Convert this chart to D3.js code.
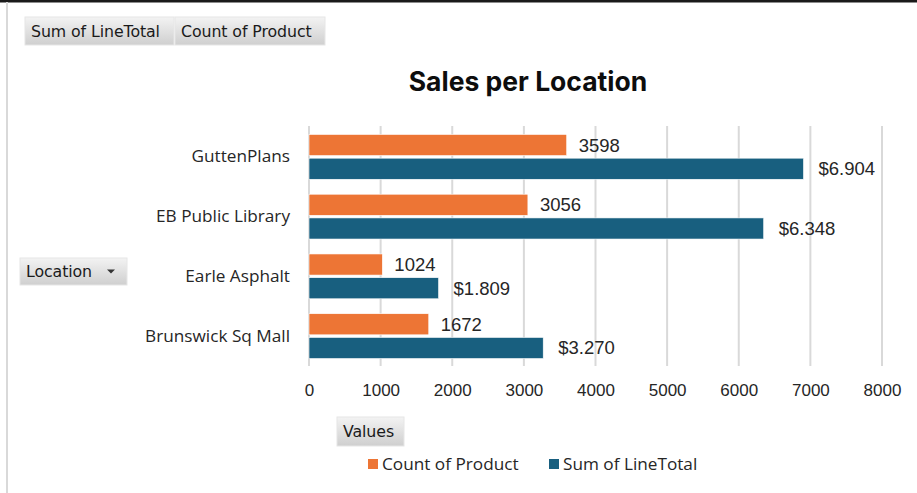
<!DOCTYPE html>
<html>
<head>
<meta charset="utf-8">
<script src="https://cdn.jsdelivr.net/npm/d3@7"></script>
<style>
  body { margin: 0; background: #fff; }
  svg { display: block; }
</style>
</head>
<body>
<svg id="chart" width="917" height="493"></svg>
<script>
// data
var locations = ["GuttenPlans", "EB Public Library", "Earle Asphalt", "Brunswick Sq Mall"];
var countOfProduct = [3598, 3056, 1024, 1672];
var sumOfLineTotal = [6904, 6348, 1809, 3270];
var xTicks = [0, 1000, 2000, 3000, 4000, 5000, 6000, 7000, 8000];
var seriesNames = ["Count of Product", "Sum of LineTotal"];
var seriesColors = ["#ED7535", "#185F7F"];

var svg = d3.select("#chart");
var W = 917, H = 493;

var defs = svg.append("defs");
var grad = defs.append("linearGradient").attr("id", "btn").attr("x1", 0).attr("y1", 0).attr("x2", 0).attr("y2", 1);
grad.append("stop").attr("offset", "0%").attr("stop-color", "#f3f3f3");
grad.append("stop").attr("offset", "100%").attr("stop-color", "#cfcfcf");

// frame lines
svg.append("rect").attr("x", 0).attr("y", 0).attr("width", W).attr("height", 2.5).attr("fill", "#1a1a1a");
svg.append("rect").attr("x", 6).attr("y", 2).attr("width", 2).attr("height", H).attr("fill", "#d9d9d9");

// pivot field buttons
function button(x, y, w, h, label, arrow) {
    var g = svg.append("g").attr("transform", "translate(" + x + "," + y + ")");
    g.append("rect").attr("width", w).attr("height", h)
        .attr("fill", "url(#btn)").attr("stroke", "#e6e6e6").attr("stroke-width", 1);
    g.append("text").attr("x", 6).attr("y", h / 2 + 5.5)
        .attr("font-family", "'DejaVu Sans', 'Liberation Sans', sans-serif")
        .attr("font-size", 15.8).attr("letter-spacing", -0.1).attr("fill", "#1a1a1a").text(label);
    if (arrow) {
        g.append("path").attr("d", "M" + (w - 20) + "," + (h / 2 - 2) + "l8,0l-4,4z").attr("fill", "#333");
    }
}
button(25, 17, 149, 28, "Sum of LineTotal");
button(175, 17, 150, 28, "Count of Product");
button(20, 258, 107, 27, "Location", true);
button(337, 417, 67, 29, "Values");

// title
svg.append("text").attr("x", 528).attr("y", 91).attr("text-anchor", "middle")
    .attr("font-family", "Inter, 'Open Sans', sans-serif").attr("font-weight", "bold")
    .attr("font-size", 26.5).attr("fill", "#0d0d0d").text("Sales per Location");

// scales
var x = d3.scaleLinear().domain([0, 8000]).range([309, 882]);
var y = d3.scaleBand().domain(locations).range([127, 366]).paddingInner(0.25).paddingOuter(0.125);
var sub = d3.scaleBand().domain(seriesNames).range([0, y.bandwidth()]).paddingInner(0.11);

// gridlines
svg.append("g").selectAll("line").data(xTicks).join("line")
    .attr("x1", d => x(d)).attr("x2", d => x(d))
    .attr("y1", 126).attr("y2", 366)
    .attr("stroke", "#d9d9d9").attr("stroke-width", 2);

// x axis labels
var xAxis = svg.append("g").attr("transform", "translate(0,366)")
    .call(d3.axisBottom(x).tickValues(xTicks).tickSize(0).tickPadding(18).tickFormat(d3.format("d")));
xAxis.select(".domain").remove();
xAxis.selectAll("text").attr("font-family", "'Liberation Sans', Arial, sans-serif")
    .attr("font-size", 17).attr("fill", "#262626");

// y axis labels
var yAxis = svg.append("g").attr("transform", "translate(309,0)")
    .call(d3.axisLeft(y).tickSize(0).tickPadding(19));
yAxis.select(".domain").remove();
yAxis.selectAll("text").attr("font-family", "'Open Sans', Lato, sans-serif")
    .attr("font-size", 17.2).attr("fill", "#262626");

// bars
var rows = locations.map((loc, i) => ({loc: loc, vals: [countOfProduct[i], sumOfLineTotal[i]]}));
var groups = svg.append("g").selectAll("g").data(rows).join("g")
    .attr("transform", d => "translate(0," + y(d.loc) + ")");

groups.selectAll("rect").data(d => d.vals.map((v, k) => ({k: k, v: v}))).join("rect")
    .attr("x", x(0)).attr("y", d => sub(seriesNames[d.k]))
    .attr("width", d => x(d.v) - x(0)).attr("height", sub.bandwidth())
    .attr("fill", d => seriesColors[d.k]).attr("stroke", "#fff").attr("stroke-width", 0.6);

var fmtMoney = v => "$" + d3.format(",")(v).replace(/,/g, ".");
groups.selectAll("text").data(d => d.vals.map((v, k) => ({k: k, v: v}))).join("text")
    .attr("x", d => x(d.v) + (d.k === 1 ? 15 : 12))
    .attr("y", d => sub(seriesNames[d.k]) + sub.bandwidth() / 2 + 6.5)
    .attr("font-family", "'Liberation Sans', Arial, sans-serif").attr("font-size", 18.5)
    .attr("fill", "#262626")
    .text(d => d.k === 1 ? fmtMoney(d.v) : d.v);

// legend
var legendX = [368, 549];
var legend = svg.append("g").selectAll("g").data(seriesNames).join("g")
    .attr("transform", (d, i) => "translate(" + legendX[i] + ",459)");
legend.append("rect").attr("width", 10).attr("height", 10).attr("fill", (d, i) => seriesColors[i]);
legend.append("text").attr("x", 14).attr("y", 11)
    .attr("font-family", "'Open Sans', Lato, sans-serif").attr("font-size", 17.2)
    .attr("fill", "#262626").text(d => d);
</script>
</body>
</html>
